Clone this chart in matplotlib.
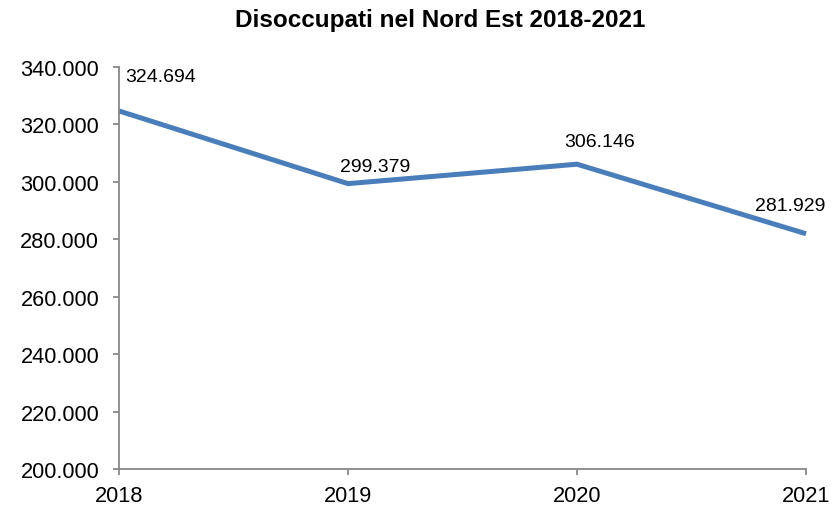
import matplotlib
matplotlib.use("Agg")
import matplotlib.pyplot as plt
from matplotlib.ticker import FuncFormatter

years = [2018, 2019, 2020, 2021]
disoccupati = [324694, 299379, 306146, 281929]
labels = ["324.694", "299.379", "306.146", "281.929"]

plt.rcParams['font.family'] = ['Liberation Sans', 'DejaVu Sans']

fig = plt.figure(figsize=(8.32, 5.06), dpi=100)
# axes spans x 119..806 px, y 68..470 px
ax = fig.add_axes([119/832, (506-470)/506, (806-119)/832, (470-68)/506])

ax.plot(years, disoccupati, color='#4a7ebb', linewidth=3.6,
        solid_capstyle='butt', solid_joinstyle='miter', clip_on=False)

ax.set_xlim(2018, 2021)
ax.set_ylim(200000, 340000)
ax.set_yticks(range(200000, 340001, 20000))
ax.set_xticks(years)
ax.yaxis.set_major_formatter(FuncFormatter(lambda v, p: f"{int(v):,}".replace(",", ".")))

for s in ['top', 'right']:
    ax.spines[s].set_visible(False)
for s in ['left', 'bottom']:
    ax.spines[s].set_color('#888888')
    ax.spines[s].set_linewidth(1.3)
ax.tick_params(axis='both', colors='#888888', labelcolor='black', labelsize=15.7,
               length=4.3, width=1.3)
ax.tick_params(axis='y', pad=10)
ax.tick_params(axis='x', pad=7)

# data labels (offsets in points, relative to each data point)
ax.annotate(labels[0], (years[0], disoccupati[0]), xytext=(4.3, 21.6), textcoords='offset points',
            ha='left', va='baseline', fontsize=14)
label_offsets = [(19.4, 9.4), (16.6, 13.0), (-11.5, 17.3)]
for i, off in zip(range(1, 4), label_offsets):
    ax.annotate(labels[i], (years[i], disoccupati[i]), xytext=off, textcoords='offset points',
                ha='center', va='baseline', fontsize=14)

fig.text(440/832, 1 - 20/506, "Disoccupati nel Nord Est 2018-2021", ha='center', va='center',
         fontsize=17.5, fontweight='bold')

fig.savefig("out.png", dpi=100)
